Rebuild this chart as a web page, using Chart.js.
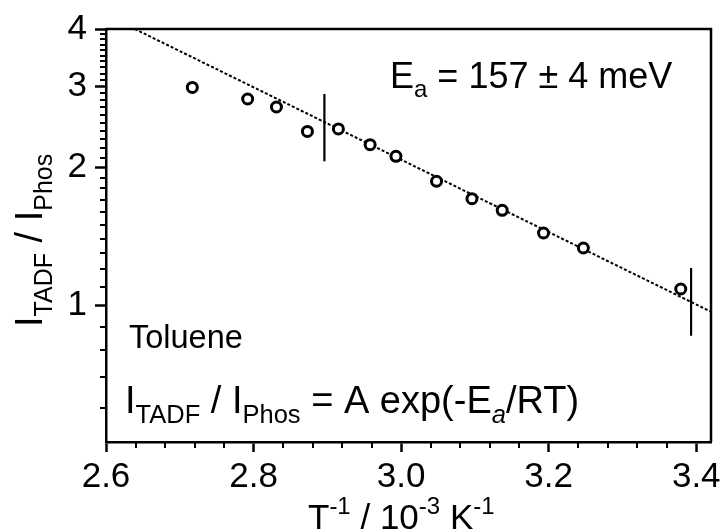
<!DOCTYPE html>
<html lang="en">
<head>
  <meta charset="UTF-8">
  <title>TADF / Phos ratio vs 1/T</title>
  <script src="https://cdn.jsdelivr.net/npm/chart.js"></script>
  <style>
    html, body { margin: 0; padding: 0; background: #fff; overflow: hidden; }
    canvas { display: block; }
  </style>
</head>
<body>
  <canvas id="arrhenius-chart" width="725" height="531"></canvas>

  <script>
    // measured points (T^-1 in 10^-3 K^-1, I_TADF / I_Phos)
    const invT = [2.717, 2.792, 2.831, 2.873, 2.915, 2.958, 2.993, 3.048, 3.096, 3.137, 3.193, 3.247, 3.379];
    const ratio = [2.985, 2.817, 2.706, 2.394, 2.424, 2.240, 2.113, 1.865, 1.709, 1.612, 1.439, 1.335, 1.087];

    // Arrhenius fit, Ea = 157 meV
    const fitX = [2.639, 3.42];
    const fitY = [4.0, 0.97];

    // vertical markers of the fit range
    const markLowX = [2.896, 2.896];
    const markLowY = [2.061, 2.888];
    const markHighX = [3.393, 3.393];
    const markHighY = [0.860, 1.208];

    // ticks
    const xMajor = [2.6, 2.8, 3.0, 3.2, 3.4];
    const xMinor = [2.64, 2.68, 2.72, 2.76, 2.84, 2.88, 2.92, 2.96, 3.04, 3.08, 3.12, 3.16, 3.24, 3.28, 3.32, 3.36];
    const yMajor = [1, 2, 3, 4];
    const yMinor = [0.6, 0.7, 0.8, 0.9, 1.1, 1.2, 1.3, 1.4, 1.5, 1.6, 1.7, 1.8, 1.9,
                    2.1, 2.2, 2.3, 2.4, 2.5, 2.6, 2.7, 2.8, 2.9, 3.1, 3.2, 3.3, 3.4, 3.5, 3.6, 3.7, 3.8, 3.9];

    const FONT = "'Liberation Sans', Arial, sans-serif";

    const pts = (xs, ys) => xs.map((x, i) => ({ x: x, y: ys[i] }));

    // text with sub/superscripts: runs of {t, size, dy, italic}
    function drawRuns(ctx, x, y, runs) {
      let cx = x;
      runs.forEach(r => {
        ctx.font = (r.italic ? 'italic ' : '') + r.size + 'px ' + FONT;
        ctx.fillText(r.t, cx, y + (r.dy || 0));
        cx += ctx.measureText(r.t).width;
      });
    }

    const decorPlugin = {
      id: 'decor',
      afterDraw(chart) {
        const ctx = chart.ctx;
        const a = chart.chartArea;
        const xs = chart.scales.x;
        const ys = chart.scales.y;
        ctx.save();
        ctx.strokeStyle = '#000';
        ctx.fillStyle = '#000';

        // top + right frame
        ctx.lineWidth = 2.5;
        ctx.beginPath();
        ctx.moveTo(a.left, a.top);
        ctx.lineTo(a.right, a.top);
        ctx.lineTo(a.right, a.bottom);
        ctx.stroke();

        // minor ticks
        ctx.lineWidth = 2;
        ctx.beginPath();
        xMinor.forEach(v => {
          const px = Math.round(xs.getPixelForValue(v));
          ctx.moveTo(px, a.bottom);
          ctx.lineTo(px, a.bottom + 6);
        });
        yMinor.forEach(v => {
          const py = Math.round(ys.getPixelForValue(v));
          ctx.moveTo(a.left, py);
          ctx.lineTo(a.left - 6, py);
        });
        ctx.stroke();

        ctx.textBaseline = 'alphabetic';
        ctx.textAlign = 'left';

        // annotations
        drawRuns(ctx, 390, 88, [
          { t: 'E', size: 36 },
          { t: 'a', size: 24, dy: 9 },
          { t: ' = 157 \u00b1 4 meV', size: 36 }
        ]);
        drawRuns(ctx, 129, 348, [{ t: 'Toluene', size: 32.5 }]);
        drawRuns(ctx, 125, 413, [
          { t: 'I', size: 38 },
          { t: 'TADF', size: 25.5, dy: 10 },
          { t: ' / I', size: 38 },
          { t: 'Phos', size: 25.5, dy: 10 },
          { t: ' = A exp(-E', size: 38 },
          { t: 'a', size: 25.5, dy: 10, italic: true },
          { t: '/RT)', size: 38 }
        ]);

        // x axis title
        drawRuns(ctx, 308, 529, [
          { t: 'T', size: 35 },
          { t: '-1', size: 24, dy: -15 },
          { t: ' / 10', size: 35 },
          { t: '-3', size: 24, dy: -15 },
          { t: ' K', size: 35 },
          { t: '-1', size: 24, dy: -15 }
        ]);

        // y axis title (rotated)
        ctx.translate(42, 327);
        ctx.rotate(-Math.PI / 2);
        drawRuns(ctx, 0, 0, [
          { t: 'I', size: 38 },
          { t: 'TADF', size: 25, dy: 10 },
          { t: ' / I', size: 38 },
          { t: 'Phos', size: 25, dy: 10 }
        ]);
        ctx.restore();
      }
    };

    const chart = new Chart(document.getElementById('arrhenius-chart'), {
      type: 'scatter',
      data: {
        datasets: [
          {
            label: 'data',
            data: pts(invT, ratio),
            showLine: false,
            pointRadius: 5,
            pointBorderWidth: 3,
            pointBackgroundColor: '#fff',
            pointBorderColor: '#000',
            order: 0
          },
          {
            label: 'fit',
            data: pts(fitX, fitY),
            showLine: true,
            borderColor: '#000',
            borderWidth: 2,
            borderDash: [3, 2],
            pointRadius: 0,
            order: 1
          },
          {
            label: 'low',
            data: pts(markLowX, markLowY),
            showLine: true,
            borderColor: '#000',
            borderWidth: 2.2,
            pointRadius: 0,
            order: 2
          },
          {
            label: 'high',
            data: pts(markHighX, markHighY),
            showLine: true,
            borderColor: '#000',
            borderWidth: 2.2,
            pointRadius: 0,
            order: 2
          }
        ]
      },
      options: {
        responsive: false,
        animation: false,
        layout: { padding: { top: 29, right: 14, left: 0, bottom: 0 } },
        plugins: { legend: { display: false }, tooltip: { enabled: false } },
        scales: {
          x: {
            type: 'linear',
            min: 2.6,
            max: 3.42,
            afterBuildTicks: s => { s.ticks = xMajor.map(v => ({ value: v })); },
            afterFit: s => { s.height = 89; },
            ticks: {
              color: '#000',
              font: { family: FONT, size: 35 },
              padding: 4,
              maxRotation: 0,
              callback: v => v.toFixed(1)
            },
            grid: { drawOnChartArea: false, drawTicks: true, tickLength: 10, tickWidth: 2.5, tickColor: '#000' },
            border: { display: true, color: '#000', width: 2.5 }
          },
          y: {
            type: 'logarithmic',
            min: 0.505,
            max: 4,
            afterBuildTicks: s => { s.ticks = yMajor.map(v => ({ value: v })); },
            afterFit: s => { s.width = 106; },
            ticks: {
              color: '#000',
              font: { family: FONT, size: 35 },
              padding: 8,
              callback: v => String(v)
            },
            grid: { drawOnChartArea: false, drawTicks: true, tickLength: 11, tickWidth: 2.5, tickColor: '#000' },
            border: { display: true, color: '#000', width: 2.5 }
          }
        }
      },
      plugins: [decorPlugin]
    });
  </script>
</body>
</html>
